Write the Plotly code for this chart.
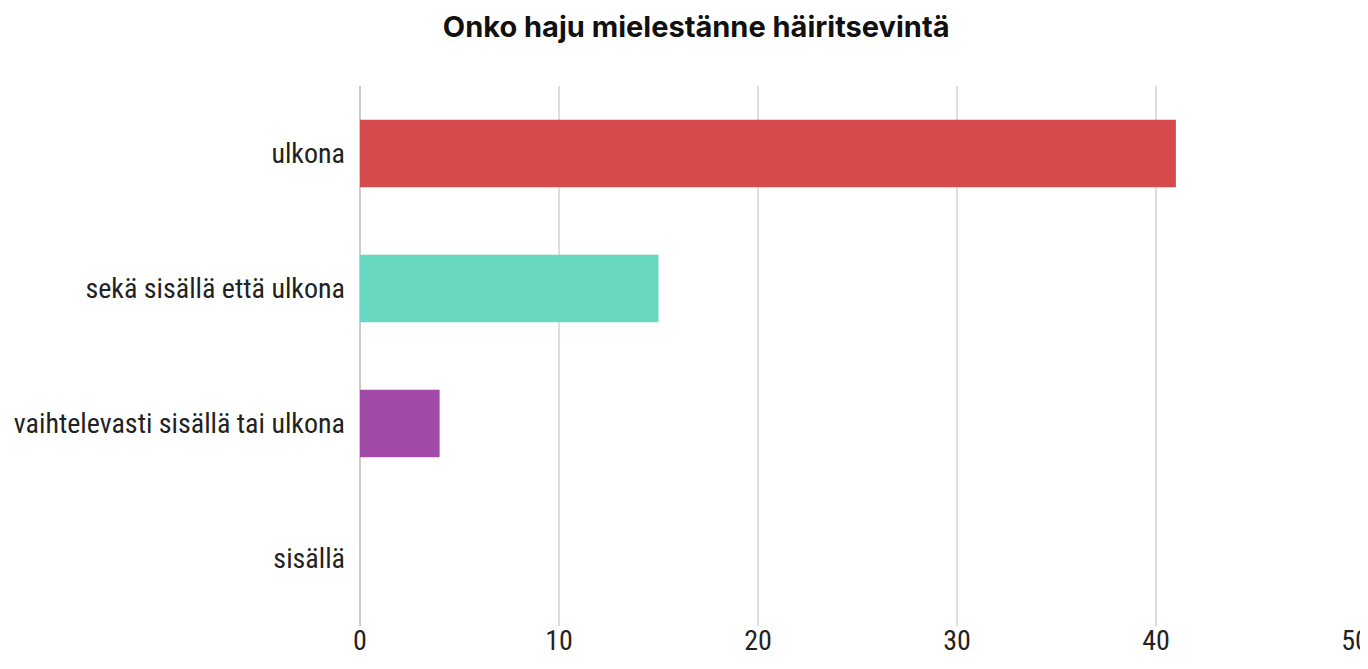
import plotly.graph_objects as go

categories = ["ulkona", "sekä sisällä että ulkona", "vaihtelevasti sisällä tai ulkona", "sisällä"]
values = [41, 15, 4, 0]
colors = ["#d64a4b", "#68d8c0", "#a24aa5", "#4a7bd6"]
x_ticks = [0, 10, 20, 30, 40, 50]
title = "Onko haju mielestänne häiritsevintä"

label_font = "Liberation Sans Narrow, Arial Narrow, Roboto Condensed, sans-serif"

fig = go.Figure(go.Bar(
    y=categories, x=values, orientation="h",
    marker=dict(color=colors, line=dict(width=0)),
    width=0.5,
))

fig.update_layout(
    width=1360, height=661,
    paper_bgcolor="white", plot_bgcolor="white",
    margin=dict(l=352, r=13, t=78, b=43),
    title=dict(text="<b>" + title + "</b>", x=0.506, xanchor="center", y=0.972, yanchor="middle",
               font=dict(family="Inter, Roboto, sans-serif", size=29, color="#111111")),
    showlegend=False,
    bargap=0.5,
)
fig.update_xaxes(range=[0, 50], tickvals=x_ticks, showgrid=True, gridcolor="#dedede", gridwidth=2,
                 zeroline=True, zerolinecolor="#cccccc", zerolinewidth=2,
                 tickfont=dict(family=label_font, size=28, color="#222222"),
                 ticklabelstandoff=-5, ticklabeloverflow="allow", automargin=False,
                 showline=False, fixedrange=True)
fig.update_yaxes(categoryorder="array", categoryarray=categories[::-1],
                 tickfont=dict(family=label_font, size=28, color="#222222"),
                 ticklabelstandoff=14, showgrid=False, automargin=False, fixedrange=True)

fig.write_html("out.html")
